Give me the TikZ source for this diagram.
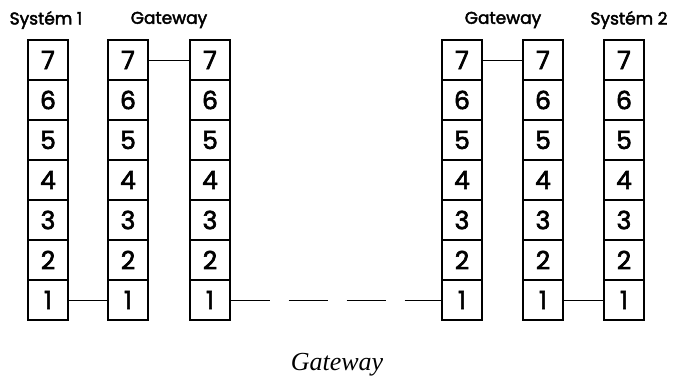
\documentclass[tikz,border=0pt]{standalone}
\usepackage{fontspec}
\usepackage{tikz}
\newfontfamily\gothic[FakeBold=2.5]{Poppins}
\newfontfamily\capserif{Liberation Serif}

\tikzstyle{layer} = [rectangle, draw=black, line width=1.2pt, minimum width=40pt, minimum height=40pt, inner sep=0pt, text centered, font=\gothic\fontsize{25}{25}\selectfont]
\tikzstyle{title} = [inner sep=0pt, font=\gothic\fontsize{17}{17}\selectfont]
\tikzstyle{link} = [line width=0.9pt]

\begin{document}
\begin{tikzpicture}[x=1pt, y=-1pt]
\useasboundingbox (0,0) rectangle (675,385);

% protocol stacks, layer 1 at the bottom
\foreach \col/\x in {sysA/48, gwA/128, gwB/210, gwC/462, gwD/543, sysB/624}
  \foreach \n in {1,...,7}
    \node (\col-\n) [layer] at (\x, 340-40*\n) {\n};

\node (tA) [title] at (46,20) {Systém 1};
\node (tB) [title] at (169,20) {Gateway};
\node (tC) [title] at (503,20) {Gateway};
\node (tD) [title] at (629,20) {Systém 2};

\draw [link] (gwA-7) -- (gwB-7);
\draw [link] (gwC-7) -- (gwD-7);
\draw [link] (sysA-1) -- (gwA-1);
\draw [link, dash pattern=on 39pt off 19pt] (gwB-1) -- (gwC-1);
\draw [link] (gwD-1) -- (sysB-1);

\node (cap) at (337,365) {\capserif\itshape\fontsize{26}{26}\selectfont Gateway};

\end{tikzpicture}
\end{document}
